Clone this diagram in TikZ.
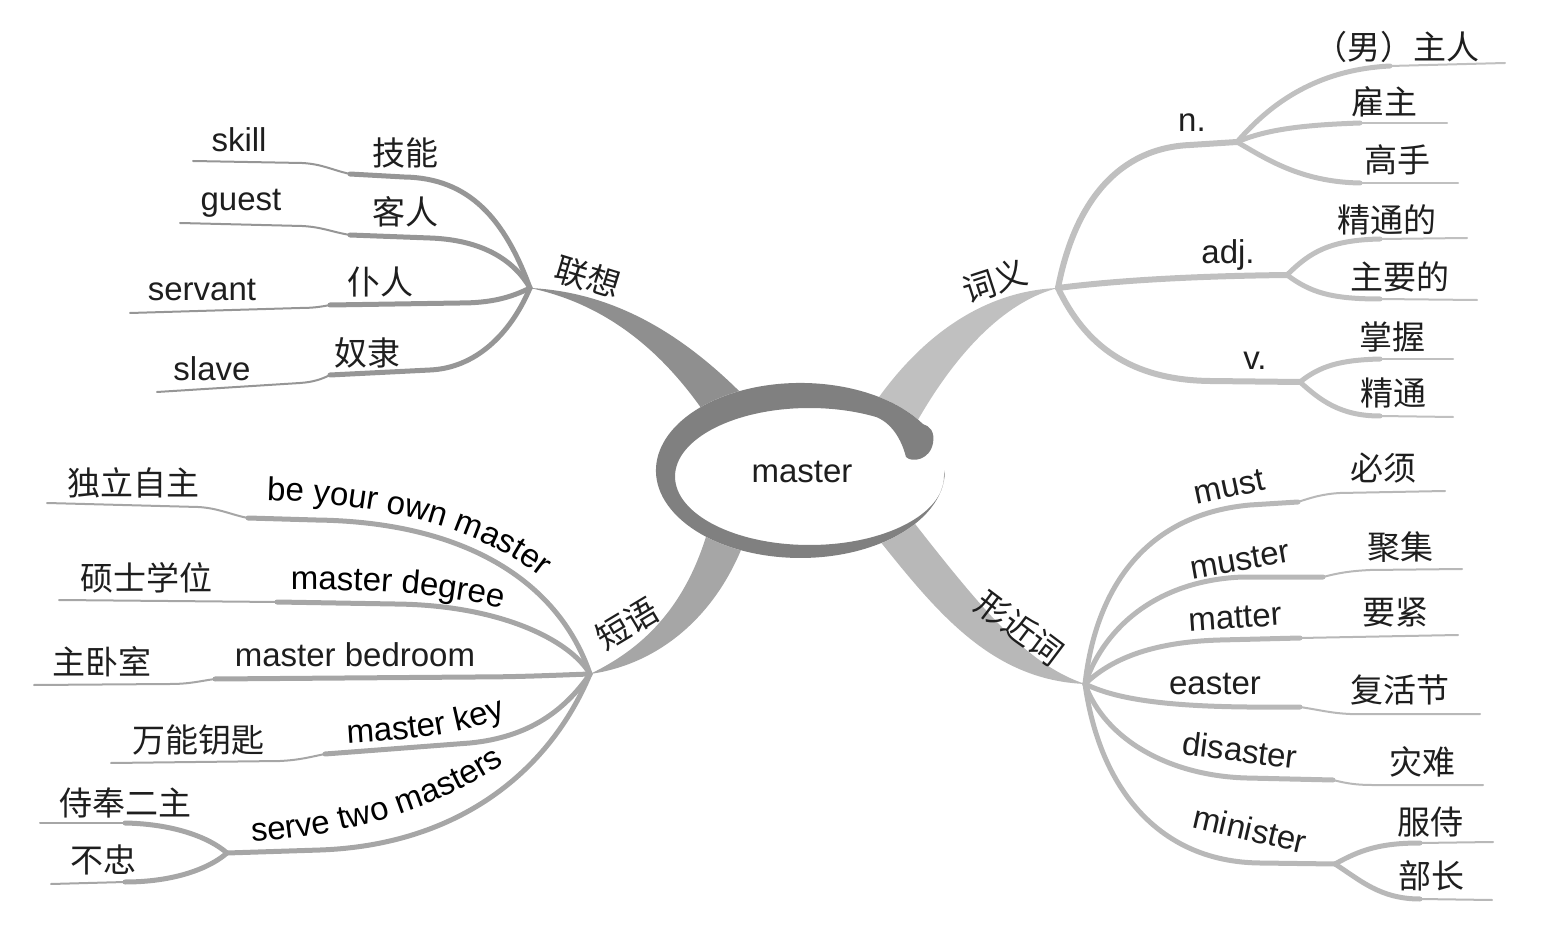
\documentclass[tikz,border=0pt]{standalone}
\usepackage{fontspec}
\setmainfont{Liberation Sans}
\newfontfamily\cjk{Noto Sans CJK SC}
\usetikzlibrary{decorations.text}
\definecolor{Ring}{HTML}{808080}
\definecolor{Assoc}{HTML}{969696}
\definecolor{Sense}{HTML}{C0C0C0}
\definecolor{Phrase}{HTML}{A6A6A6}
\definecolor{Alike}{HTML}{B8B8B8}
\definecolor{Ink}{HTML}{1E1E1E}
\newcommand\wordsize{\fontsize{16.5}{20}\selectfont}

\begin{document}
\begin{tikzpicture}[x=0.5pt,y=-0.5pt,
  word/.style={font=\wordsize,text=Ink,inner sep=0pt},
  zh/.style={font=\cjk\wordsize,text=Ink,inner sep=0pt},
  fat/.style={line width=2.5pt,line cap=round},
  slim/.style={line width=1pt,line cap=round},
  stem/.style={line width=3pt,line cap=round},
  curvetext/.style={decorate,decoration={text along path,text align=center,text={|\wordsize|#1}}}
]
\useasboundingbox (0,0) rectangle (1565,925);
\coordinate (lx) at (530,288);
\coordinate (cy) at (1058,288);
\coordinate (dy) at (590,674);
\coordinate (xj) at (1085,684);
\coordinate (nn) at (1237,142);
\coordinate (aj) at (1287,275);
\coordinate (vv) at (1300,382);
\coordinate (tm) at (227,853);
\coordinate (ms) at (1335,864);

\draw[Assoc,fat] (lx) .. controls (505,220) and (470,178) .. (404,177) -- (350,174) coordinate (skK);
\draw[Assoc,slim] (skK) .. controls (332,170) and (322,164) .. (302,163) -- (193,161) coordinate (skE);
\draw[Assoc,fat] (lx) .. controls (515,262) and (485,240) .. (430,238) -- (350,235) coordinate (guK);
\draw[Assoc,slim] (guK) .. controls (332,232) and (322,227) .. (302,226) -- (180,223) coordinate (guE);
\draw[Assoc,fat] (lx) .. controls (510,298) and (490,303) .. (460,303) -- (330,305) coordinate (seK);
\draw[Assoc,slim] (seK) .. controls (320,307) and (312,308) .. (300,308) -- (130,313) coordinate (seE);
\draw[Assoc,fat] (lx) .. controls (510,335) and (475,368) .. (430,370) -- (330,375) coordinate (slK);
\draw[Assoc,slim] (slK) .. controls (322,379) and (314,382) .. (300,383) -- (157,392) coordinate (slE);

\draw[Sense,stem] (cy) .. controls (1075,200) and (1120,148) .. (1190,145) -- (nn);
\draw[Sense,stem] (cy) .. controls (1120,280) and (1200,276) .. (aj);
\draw[Sense,stem] (cy) .. controls (1085,345) and (1130,380) .. (1210,381) -- (vv);
\draw[Sense,fat] (nn) .. controls (1265,110) and (1310,70) .. (1390,66) coordinate (n1K);
\draw[Sense,slim] (n1K) -- (1505,63) coordinate (n1E);
\draw[Sense,fat] (nn) .. controls (1265,130) and (1300,125) .. (1360,123) coordinate (n2K);
\draw[Sense,slim] (n2K) -- (1447,123) coordinate (n2E);
\draw[Sense,fat] (nn) .. controls (1265,158) and (1300,182) .. (1360,183) coordinate (n3K);
\draw[Sense,slim] (n3K) -- (1458,183) coordinate (n3E);
\draw[Sense,fat] (aj) .. controls (1310,252) and (1330,240) .. (1380,239) coordinate (a1K);
\draw[Sense,slim] (a1K) -- (1467,238) coordinate (a1E);
\draw[Sense,fat] (aj) .. controls (1310,292) and (1330,299) .. (1380,299) coordinate (a2K);
\draw[Sense,slim] (a2K) -- (1477,300) coordinate (a2E);
\draw[Sense,fat] (vv) .. controls (1320,366) and (1340,360) .. (1380,359) coordinate (v1K);
\draw[Sense,slim] (v1K) -- (1453,359) coordinate (v1E);
\draw[Sense,fat] (vv) .. controls (1320,400) and (1340,416) .. (1380,416) coordinate (v2K);
\draw[Sense,slim] (v2K) -- (1453,417) coordinate (v2E);

\draw[Phrase,fat] (dy) .. controls (560,585) and (470,522) .. (316,520) -- (248,518) coordinate (p1K);
\draw[Phrase,slim] (p1K) .. controls (232,515) and (218,508) .. (198,507) -- (47,503) coordinate (p1E);
\draw[Phrase,fat] (dy) .. controls (570,640) and (500,605) .. (395,604) -- (277,602) coordinate (p2K);
\draw[Phrase,slim] (p2K) -- (59,600) coordinate (p2E);
\draw[Phrase,fat] (dy) .. controls (560,675) and (520,677) .. (474,677) -- (215,679) coordinate (p3K);
\draw[Phrase,slim] (p3K) .. controls (200,681) and (190,684) .. (170,684) -- (34,685) coordinate (p3E);
\draw[Phrase,fat] (dy) .. controls (565,710) and (530,737) .. (470,743) -- (325,754) coordinate (p4K);
\draw[Phrase,slim] (p4K) .. controls (310,757) and (300,760) .. (280,761) -- (111,763) coordinate (p4E);
\draw[Phrase,fat] (dy) .. controls (550,770) and (460,845) .. (320,850) -- (tm);
\draw[Phrase,fat] (tm) .. controls (210,838) and (175,824) .. (125,823) coordinate (t1K);
\draw[Phrase,slim] (t1K) -- (40,823) coordinate (t1E);
\draw[Phrase,fat] (tm) .. controls (210,868) and (175,882) .. (125,882) coordinate (t2K);
\draw[Phrase,slim] (t2K) -- (51,884) coordinate (t2E);

\draw[Alike,fat] (xj) .. controls (1095,595) and (1140,515) .. (1250,505) -- (1298,502) coordinate (x1K);
\draw[Alike,slim] (x1K) .. controls (1310,498) and (1322,494) .. (1340,493) -- (1445,491) coordinate (x1E);
\draw[Alike,fat] (xj) .. controls (1105,625) and (1160,580) .. (1243,577) -- (1323,577) coordinate (x2K);
\draw[Alike,slim] (x2K) .. controls (1338,573) and (1350,571) .. (1370,570) -- (1462,569) coordinate (x2E);
\draw[Alike,fat] (xj) .. controls (1110,660) and (1150,642) .. (1220,640) -- (1300,638) coordinate (x3K);
\draw[Alike,slim] (x3K) -- (1458,635) coordinate (x3E);
\draw[Alike,fat] (xj) .. controls (1110,696) and (1150,706) .. (1247,707) -- (1300,707) coordinate (x4K);
\draw[Alike,slim] (x4K) .. controls (1320,710) and (1330,713) .. (1350,714) -- (1480,714) coordinate (x4E);
\draw[Alike,fat] (xj) .. controls (1105,740) and (1170,776) .. (1247,778) -- (1333,780) coordinate (x5K);
\draw[Alike,slim] (x5K) .. controls (1345,783) and (1355,785) .. (1372,785) -- (1483,785) coordinate (x5E);
\draw[Alike,fat] (xj) .. controls (1100,790) and (1160,862) .. (1260,863) -- (ms);
\draw[Alike,fat] (ms) .. controls (1360,850) and (1380,843) .. (1420,843) coordinate (m1K);
\draw[Alike,slim] (m1K) -- (1493,842) coordinate (m1E);
\draw[Alike,fat] (ms) .. controls (1360,880) and (1380,899) .. (1420,899) coordinate (m2K);
\draw[Alike,slim] (m2K) -- (1492,900) coordinate (m2E);

\fill[Assoc!95!black] (lx) .. controls (610,292) and (680,330) .. (748,400) -- (706,415) .. controls (665,355) and (610,305) .. (lx) -- cycle;
\fill[Sense] (cy) .. controls (1000,290) and (930,320) .. (870,410) -- (915,425) .. controls (960,345) and (1010,300) .. (cy) -- cycle;
\fill[Phrase] (dy) .. controls (640,650) and (685,610) .. (708,530) -- (745,540) .. controls (715,620) and (655,665) .. (dy) -- cycle;
\fill[Alike] (875,535) .. controls (935,610) and (990,680) .. (xj) .. controls (1030,665) and (990,620) .. (912,520) -- cycle;

\fill[white] (800.5,470.5) ellipse [x radius=144.5, y radius=87.5];
\fill[Ring] (923,424.1) arc[start angle=-32, end angle=-360, x radius=144.5, y radius=87.5] -- (944,476.5)
  arc[start angle=0, end angle=300, x radius=134.5, y radius=68.5]
  .. controls (895,425) and (903,445) .. (906,457) .. controls (912,463) and (930,460) .. (933,443)
  .. controls (935,432) and (930,426) .. (923,424.1) -- cycle;
\node[word] (ctr) at (802,472) {master};

\node[zh,rotate=-17] (lianxiang) at (588,277) {联想};
\node[word] (skill) at (239,140) {skill};
\node[zh] (jineng) at (405,153) {技能};
\node[word] (guest) at (241,203) {guest};
\node[zh] (keren) at (405,212) {客人};
\node[word] (servant) at (202,290) {servant};
\node[zh] (puren) at (380,282) {仆人};
\node[word] (slave) at (212,369) {slave};
\node[zh] (nuli) at (367,353) {奴隶};

\node[zh,rotate=18] (ciyi) at (995,281) {词义};
\node[word] (noun) at (1192,123) {n.};
\node[zh] (zhuren) at (1397,47) {（男）主人};
\node[zh] (guzhu) at (1384,102) {雇主};
\node[zh] (gaoshou) at (1397,160) {高手};
\node[word] (adjw) at (1228,255) {adj.};
\node[zh] (jingtongde) at (1387,220) {精通的};
\node[zh] (zhuyaode) at (1400,277) {主要的};
\node[word] (verb) at (1255,361) {v.};
\node[zh] (zhangwo) at (1392,337) {掌握};
\node[zh] (jingtong) at (1393,393) {精通};

\node[zh,rotate=31] (duanyu) at (627,624) {短语};
\node[zh] (duli) at (134,483) {独立自主};
\node[zh] (shuoshi) at (146,578) {硕士学位};
\node[zh] (zhuwo) at (102,662) {主卧室};
\node[word] (bedroom) at (355,655) {master bedroom};
\node[zh] (yaoshi) at (198,740) {万能钥匙};
\node[zh] (shifeng) at (126,803) {侍奉二主};
\node[zh] (buzhong) at (103,860) {不忠};
\path[curvetext={be your own master}] (258,500) .. controls (375,502) and (480,525) .. (548,583);
\path[curvetext={master degree}] (285,590) .. controls (360,589) and (440,592) .. (508,610);
\path[curvetext={master key}] (343,744) .. controls (410,740) and (460,735) .. (510,716);
\path[curvetext={serve two masters}] (248,842) .. controls (330,838) and (430,815) .. (508,761);

\node[zh,rotate=-37] (xingjinci) at (1020,628) {形近词};
\node[word,rotate=12] (must) at (1229,487) {must};
\node[zh] (bixu) at (1383,468) {必须};
\node[word,rotate=10] (muster) at (1240,560) {muster};
\node[zh] (juji) at (1400,547) {聚集};
\node[word,rotate=4] (matter) at (1235,618) {matter};
\node[zh] (yaojin) at (1395,612) {要紧};
\node[word] (easter) at (1215,684) {easter};
\node[zh] (fuhuojie) at (1400,690) {复活节};
\node[word,rotate=-7] (disaster) at (1240,750) {disaster};
\node[zh] (zainan) at (1422,762) {灾难};
\node[word,rotate=-13] (minister) at (1250,829) {minister};
\node[zh] (fushi) at (1430,822) {服侍};
\node[zh] (buzhang) at (1431,876) {部长};
\end{tikzpicture}
\end{document}
